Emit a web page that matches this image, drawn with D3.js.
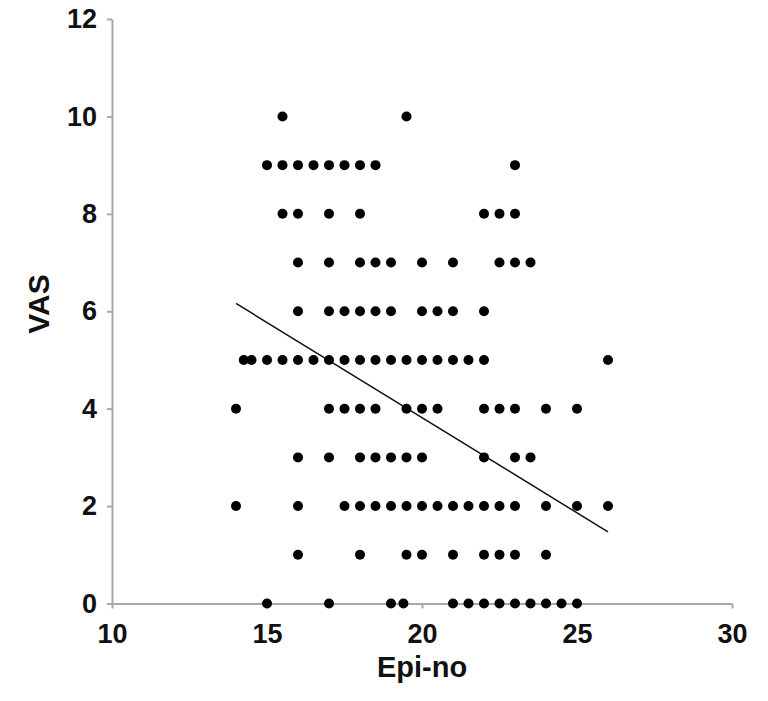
<!DOCTYPE html>
<html>
<head>
<meta charset="utf-8">
<script src="https://cdn.jsdelivr.net/npm/d3@7"></script>
<style>
  html, body { margin: 0; padding: 0; background: #fff; }
  svg { display: block; }
</style>
</head>
<body>
<svg id="chart" width="768" height="701"></svg>
<script>
// Epi-no values grouped by VAS score
const vas0  = [15, 17, 19, 19.4, 21, 21.5, 22, 22.5, 23, 23.5, 24, 24.5, 25];
const vas1  = [16, 18, 19.5, 20, 21, 22, 22.5, 23, 24];
const vas2  = [14, 16, 17.5, 18, 18.5, 19, 19.5, 20, 20.5, 21, 21.5, 22, 22.5, 23, 24, 25, 26];
const vas3  = [16, 17, 18, 18.5, 19, 19.5, 20, 22, 23, 23.5];
const vas4  = [14, 17, 17.5, 18, 18.5, 19.5, 20, 20.5, 22, 22.5, 23, 24, 25];
const vas5  = [14.25, 14.5, 15, 15.5, 16, 16.5, 17, 17.5, 18, 18.5, 19, 19.5, 20, 20.5, 21, 21.5, 22, 26];
const vas6  = [16, 17, 17.5, 18, 18.5, 19, 20, 20.5, 21, 22];
const vas7  = [16, 17, 18, 18.5, 19, 20, 21, 22.5, 23, 23.5];
const vas8  = [15.5, 16, 17, 18, 22, 22.5, 23];
const vas9  = [15, 15.5, 16, 16.5, 17, 17.5, 18, 18.5, 23];
const vas10 = [15.5, 19.5];
const vasLevels = [0, 1, 2, 3, 4, 5, 6, 7, 8, 9, 10];
const epiByLevel = [vas0, vas1, vas2, vas3, vas4, vas5, vas6, vas7, vas8, vas9, vas10];

// Trend line endpoints
const trendX = [14, 26];
const trendY = [6.16, 1.47];

const xTicks = [10, 15, 20, 25, 30];
const yTicks = [0, 2, 4, 6, 8, 10, 12];
const xTitle = "Epi-no";
const yTitle = "VAS";

const points = [];
epiByLevel.forEach((arr, i) => arr.forEach(x => points.push({x, y: vasLevels[i]})));

const svg = d3.select("#chart");
const x = d3.scaleLinear().domain([10, 30]).range([112, 732]);
const y = d3.scaleLinear().domain([0, 12]).range([603.5, 19]);

const font = "'Liberation Sans', Arial, Helvetica, sans-serif";
const axisColor = "#a8a8a8";

const xAxis = svg.append("g")
  .attr("transform", `translate(0,${y(0)})`)
  .call(d3.axisBottom(x).tickValues(xTicks).tickSize(5).tickPadding(15).tickSizeOuter(0));
const yAxis = svg.append("g")
  .attr("transform", `translate(${x(10)},0)`)
  .call(d3.axisLeft(y).tickValues(yTicks).tickSize(5).tickPadding(10).tickSizeOuter(0));

[xAxis, yAxis].forEach(g => {
  g.select(".domain").attr("stroke", axisColor).attr("stroke-width", 2);
  g.selectAll(".tick line").attr("stroke", axisColor).attr("stroke-width", 2);
  g.selectAll(".tick text")
    .attr("fill", "#111")
    .style("font-family", font)
    .style("font-weight", "bold")
    .style("font-size", "27px");
});

// Trend line
svg.append("line")
  .attr("x1", x(trendX[0])).attr("y1", y(trendY[0]))
  .attr("x2", x(trendX[1])).attr("y2", y(trendY[1]))
  .attr("stroke", "#111").attr("stroke-width", 1.5);

// Points
svg.append("g").selectAll("circle")
  .data(points)
  .join("circle")
  .attr("cx", d => x(d.x))
  .attr("cy", d => y(d.y))
  .attr("r", 5)
  .attr("fill", "#000");

// Axis titles
svg.append("text")
  .attr("x", x(20)).attr("y", 677)
  .attr("text-anchor", "middle")
  .style("font-family", font).style("font-weight", "bold").style("font-size", "29px")
  .attr("fill", "#111")
  .text(xTitle);

svg.append("text")
  .attr("transform", `translate(49,304) rotate(-90)`)
  .attr("text-anchor", "middle")
  .style("font-family", font).style("font-weight", "bold").style("font-size", "30px")
  .attr("fill", "#111")
  .text(yTitle);
</script>
</body>
</html>
